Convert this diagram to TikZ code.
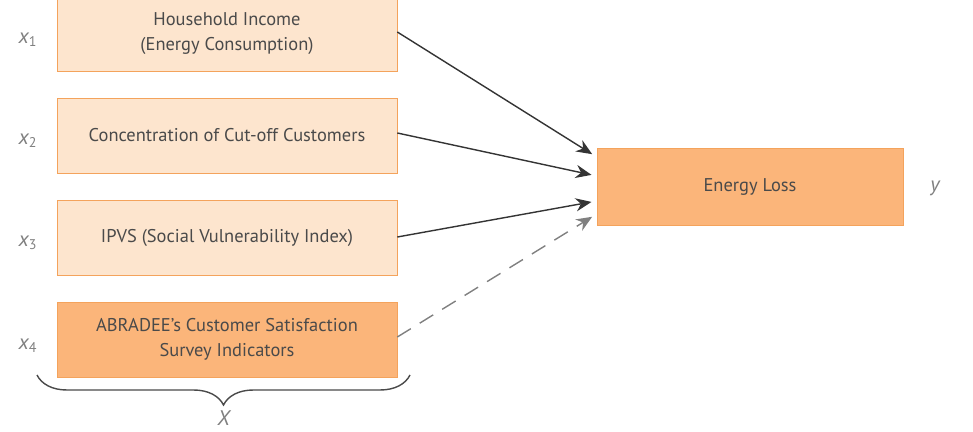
\documentclass[tikz,border=0pt]{standalone}
\usepackage{fontspec}
\setmainfont{PT Sans}
\usepackage{tikz}
\usetikzlibrary{decorations.pathreplacing,arrows.meta}

\definecolor{lightorange}{HTML}{FDE5CE}
\definecolor{midorange}{HTML}{FBB57A}
\definecolor{edgeorange}{HTML}{F4A35C}
\definecolor{textgray}{HTML}{4A4A4A}

\tikzset{
  factor/.style={draw=edgeorange,fill=lightorange,minimum width=6.8cm,minimum height=1.5cm,
    align=center,text=textgray,font=\fontsize{10.5}{14.5}\selectfont,inner sep=0pt},
  target/.style={factor,fill=midorange,minimum width=6.12cm,minimum height=1.54cm},
  varlabel/.style={text=gray,font=\fontsize{12}{14}\selectfont\itshape}
}

\begin{document}
\begin{tikzpicture}[x=0.02cm,y=-0.02cm,>={Stealth[length=9pt,width=7.5pt]}]
\useasboundingbox (0,0) rectangle (973,432);
% input factors
\node[factor] (f1) at (227,33.5) {Household Income\\(Energy Consumption)};
\node[factor] (f2) at (227,135.5) {Concentration of Cut-off Customers};
\node[factor] (f3) at (227,237.5) {IPVS (Social Vulnerability Index)};
\node[factor,fill=midorange] (f4) at (227,339.5) {ABRADEE's Customer Satisfaction\\Survey Indicators};
% output
\node[target] (loss) at (750,186.5) {Energy Loss};
% variable names
\node[varlabel] (x1) at (28,40) {x\textsubscript{\upshape 1}};
\node[varlabel] (x2) at (28,141) {x\textsubscript{\upshape 2}};
\node[varlabel] (x3) at (28,243) {x\textsubscript{\upshape 3}};
\node[varlabel] (x4) at (28,346) {x\textsubscript{\upshape 4}};
\node[varlabel] (y) at (935,188) {y};
% connections
\draw[->,thick,textgray!70!black,shorten >=3pt] (f1.east |- 0,32) -- (loss.west |- 0,157);
\draw[->,thick,textgray!70!black,shorten >=3pt] (f2.east |- 0,133) -- (loss.west |- 0,176);
\draw[->,thick,textgray!70!black,shorten >=3pt] (f3.east |- 0,237) -- (loss.west |- 0,201);
\draw[->,thick,gray,dashed,dash pattern=on 9pt off 6pt,shorten >=3pt] (f4.east |- 0,337) -- (loss.west |- 0,214);
% brace
\draw[decorate,decoration={brace,mirror,amplitude=0.6cm},textgray,thick] (37,375) -- (410,375)
  node[midway,below=0.7cm,varlabel,inner sep=0pt] (bigx) {X};
\end{tikzpicture}
\end{document}
